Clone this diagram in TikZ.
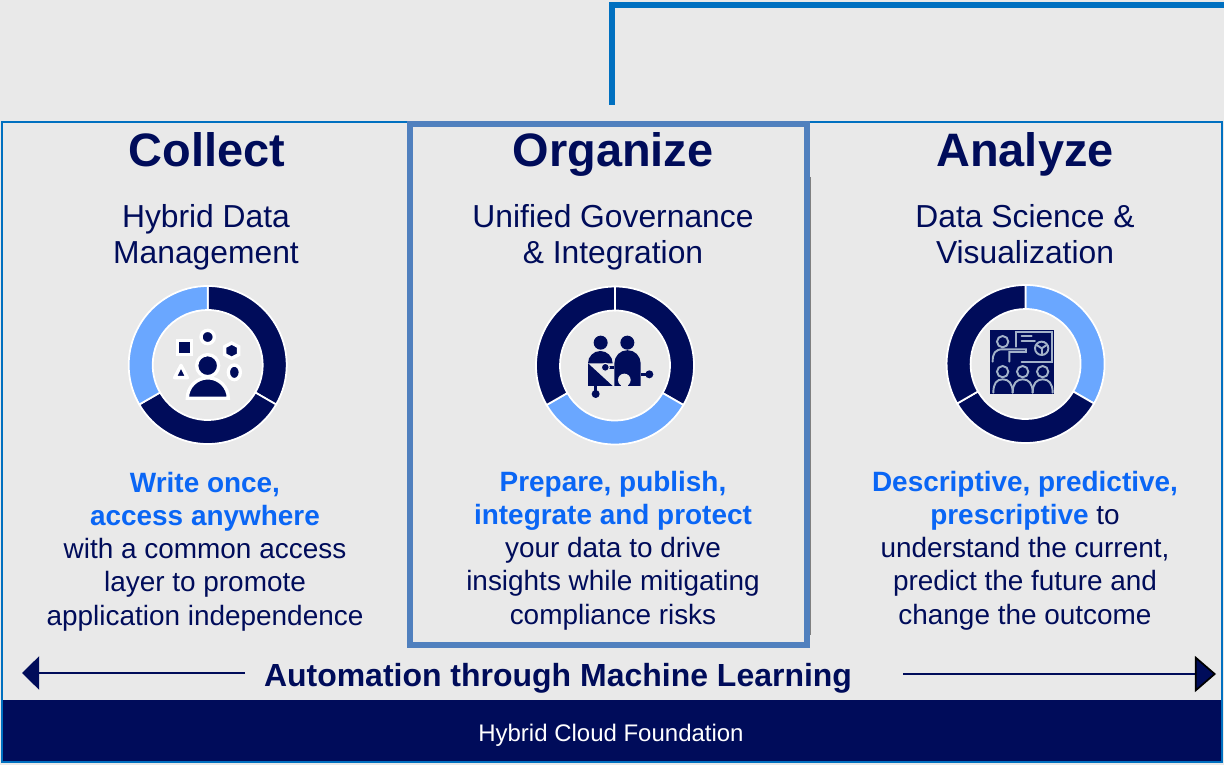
\documentclass[tikz,border=0pt]{standalone}
\usepackage{fontspec}
\usepackage{tikz}
\setmainfont{Liberation Sans}
\usetikzlibrary{arrows.meta}

\definecolor{navy}{HTML}{000C5A}
\definecolor{sky}{HTML}{6AA7FF}
\definecolor{vivid}{HTML}{0A66F5}
\definecolor{panel}{HTML}{E9E9E9}
\definecolor{edgeblue}{HTML}{0070C0}
\definecolor{boxblue}{HTML}{5080BE}
\definecolor{chalk}{HTML}{A3B2C9}

% one third of a ring, angles run clockwise from a to b
\newcommand{\ringpart}[4]{
  \fill[fill=#4,draw=white,line width=1pt] (#1)++(#2:79) arc[start angle=#2,end angle=#3,radius=79]
    -- ++(#3:-24) arc[start angle=#3,end angle=#2,radius=55] -- cycle;
}
\newcommand{\hilite}[1]{\textcolor{vivid}{\bfseries #1}}

\begin{document}
\begin{tikzpicture}[x=0.02cm,y=0.02cm,
  title node/.style={inner sep=0,anchor=base,text=navy,font=\fontsize{26.7}{30}\selectfont\bfseries},
  sub node/.style={inner sep=0,anchor=base,text=navy,align=center,font=\fontsize{18.1}{21}\selectfont},
  body node/.style={inner sep=0,anchor=base,text=navy,align=center,font=\fontsize{15.9}{18.8}\selectfont},
  icon/.style={fill=navy,draw=white,line width=1.9pt},
  chalk line/.style={draw=chalk,line width=1.1pt,line cap=round}]

  \useasboundingbox (0,0) rectangle (1224,765);
  \fill[panel] (0,0) rectangle (1224,765);

  % top connector
  \coordinate (feedA) at (612,660);
  \coordinate (feedB) at (612,760);
  \coordinate (feedC) at (1224,760);
  \draw[edgeblue,line width=3.6pt] (feedA) -- (feedB) -- (feedC);

  % frame and bar
  \draw[edgeblue,line width=1pt] (2,3) rectangle (1222,643);
  \fill[navy] (3,4) rectangle (1221,65);
  \node[text=white,inner sep=0,anchor=base,font=\fontsize{13.65}{16}\selectfont] (foundation) at (611,24) {Hybrid Cloud Foundation};

  % middle box
  \draw[gray,line width=1pt] (810,588) -- (810,130);
  \draw[boxblue,line width=3pt] (410,641) rectangle (807,120);

  % headings
  \node[title node] (collect) at (207,598) {Collect};
  \node[title node] (organize) at (613,598) {Organize};
  \node[title node] (analyze) at (1025,598) {Analyze};

  \node[sub node] (hybrid) at (206,501) {Hybrid Data\\Management};
  \node[sub node] (unified) at (613,501) {Unified Governance\\\& Integration};
  \node[sub node] (science) at (1025,501) {Data Science \&\\Visualization};

  % rings
  \coordinate (ringA) at (207.7,400);
  \coordinate (ringB) at (615,399.5);
  \coordinate (ringC) at (1025.6,401);
  \ringpart{ringA}{90}{-30}{navy}
  \ringpart{ringA}{-30}{-150}{navy}
  \ringpart{ringA}{-150}{-270}{sky}
  \ringpart{ringB}{90}{-30}{navy}
  \ringpart{ringB}{-30}{-150}{sky}
  \ringpart{ringB}{-150}{-270}{navy}
  \ringpart{ringC}{90}{-30}{sky}
  \ringpart{ringC}{-30}{-150}{navy}
  \ringpart{ringC}{-150}{-270}{navy}

  % icon of the first ring
  \begin{scope}[shift={(120,485)},x=0.00667cm,y=-0.00667cm]
    \draw[icon] (263,171) circle[radius=20];
    \draw[icon] (172,181) rectangle (214,223);
    \draw[icon] (335,189) -- (356,200) -- (356,224) -- (335,235) -- (314,224) -- (314,200) -- cycle;
    \draw[icon] (343,277) ellipse[x radius=18,y radius=22];
    \draw[icon,line join=round] (183,256) -- (202,293) -- (164,293) -- cycle;
    \draw[icon] (202,355) arc[start angle=180,end angle=360,radius=61.5] -- cycle;
    \draw[icon] (263,257) circle[radius=33];
  \end{scope}

  % icon of the second ring
  \begin{scope}[shift={(530,485)},x=0.00667cm,y=-0.00667cm]
    \fill[navy] (212,188) circle[radius=21];
    \fill[navy] (292,188) circle[radius=21];
    \fill[navy] (174,250) arc[start angle=180,end angle=360,radius=37] -- cycle;
    \fill[navy] (174,250) -- (174,318) -- (248,318) -- cycle;
    \fill[navy] (193,316) rectangle (201,335);
    \fill[navy] (197,342) circle[radius=12];
    \fill[navy] (253,250) arc[start angle=180,end angle=360,radius=39.5]
      -- (332,318) -- (253,318) -- cycle;
    \fill[navy] (332,279) rectangle (350,287);
    \fill[navy] (358,283) circle[radius=12];
    \fill[panel] (283,300) circle[radius=19];
    \fill[panel] (273,305) rectangle (293,318);
    \fill[navy] (228,258) rectangle (253,266);
    \draw[fill=navy,draw=panel,line width=0.6pt] (226,262) circle[radius=12];
  \end{scope}

  % icon of the third ring
  \begin{scope}[shift={(940,485)},x=0.00667cm,y=-0.00667cm]
    \fill[navy] (150,150) rectangle (342,342);
    \draw[chalk line] (188,185) circle[radius=17];
    \draw[chalk line] (158,245) .. controls (158,220) and (165,208) .. (188,208) -- (258,208) -- (258,216) -- (208,216) -- (208,245);
    \draw[chalk line] (228,200) -- (228,155) -- (335,155) -- (335,245) -- (245,245);
    \draw[chalk line] (245,168) -- (275,168);
    \draw[chalk line] (245,182) -- (285,182);
    \draw[chalk line] (305,205) circle[radius=20];
    \draw[chalk line] (305,205) -- (290,195);
    \draw[chalk line] (305,205) -- (320,195);
    \draw[chalk line] (305,205) -- (305,222);
    \draw[chalk line] (188,275) circle[radius=17];
    \draw[chalk line] (248,275) circle[radius=17];
    \draw[chalk line] (308,275) circle[radius=17];
    \draw[chalk line] (160,338) .. controls (160,310) and (170,298) .. (188,298) .. controls (206,298) and (218,310) .. (218,338);
    \draw[chalk line] (218,338) .. controls (218,310) and (230,298) .. (248,298) .. controls (266,298) and (278,310) .. (278,338);
    \draw[chalk line] (278,338) .. controls (278,310) and (290,298) .. (308,298) .. controls (326,298) and (338,310) .. (338,338);
  \end{scope}

  % texts under the rings
  \node[body node] (writeonce) at (205,140) {\hilite{Write once,}\\\hilite{access anywhere}\\with a common access\\layer to promote\\application independence};
  \node[body node] (prepare) at (613,141) {\hilite{Prepare, publish,}\\\hilite{integrate and protect}\\your data to drive\\insights while mitigating\\compliance risks};
  \node[body node] (descriptive) at (1025,141) {\hilite{Descriptive, predictive,}\\\hilite{prescriptive} to\\understand the current,\\predict the future and\\change the outcome};

  % automation arrows
  \node[inner sep=0,anchor=base,text=navy,font=\fontsize{18.2}{22}\selectfont\bfseries] (automation) at (558,79) {Automation through Machine Learning};
  \coordinate (arrowL) at (245,92);
  \coordinate (tipL) at (22,92);
  \coordinate (arrowR) at (903,91);
  \coordinate (tipR) at (1216,91);
  \draw[navy,line width=1pt,-{Triangle[length=9.8pt,width=19pt,fill=navy,color=navy]}] (arrowL) -- (tipL);
  \draw[navy,line width=1pt,-{Triangle[length=12pt,width=20.5pt,fill=navy,color=black]}] (arrowR) -- (tipR);
\end{tikzpicture}
\end{document}
